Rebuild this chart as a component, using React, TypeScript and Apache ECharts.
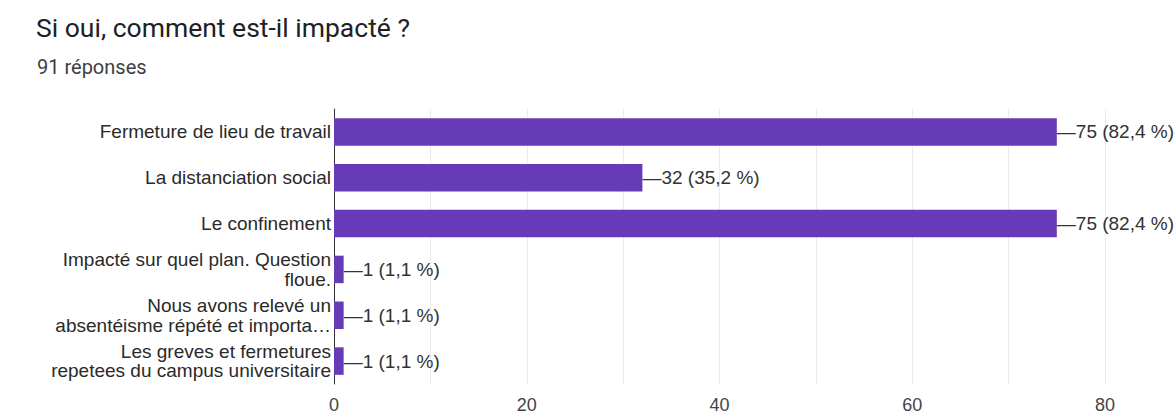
import React, { useEffect, useRef } from "react";
import * as echarts from "echarts";

const categories = [
  "Fermeture de lieu de travail",
  "La distanciation social",
  "Le confinement",
  "Impacté sur quel plan. Question\nfloue.",
  "Nous avons relevé un\nabsentéisme répété et importa…",
  "Les greves et fermetures\nrepetees du campus universitaire",
];
const values = [75, 32, 75, 1, 1, 1];
const percents = ["82,4", "35,2", "82,4", "1,1", "1,1", "1,1"];
const title = "Si oui, comment est-il impacté ?";
const subtitle = "91 réponses";

export default function App() {
  const ref = useRef<HTMLDivElement>(null);
  useEffect(() => {
    document.body.style.margin = "0";
    const chart = echarts.init(ref.current!, null, { renderer: "svg" });
    chart.setOption({
      animation: false,
      backgroundColor: "#ffffff",
      title: [
        {
          text: title,
          left: 31,
          top: 9,
          textStyle: { fontFamily: "Roboto, Arial, sans-serif", fontSize: 26.5, fontWeight: "normal", color: "#202124" },
        },
        {
          text: subtitle,
          left: 32,
          top: 52,
          textStyle: { fontFamily: "Roboto, Arial, sans-serif", fontSize: 20, fontWeight: "normal", color: "#3c4043" },
        },
      ],
      grid: { left: 334, right: 71, top: 109, bottom: 26, containLabel: false },
      xAxis: {
        type: "value",
        min: 0,
        max: 80,
        interval: 10,
        axisLine: { show: false },
        axisTick: { show: false },
        splitLine: { show: true, lineStyle: { color: "#ebebeb", width: 1 } },
        axisLabel: {
          formatter: (v: number) => (v % 20 === 0 ? String(v) : ""),
          color: "#444",
          fontFamily: "'Liberation Sans', Arial, sans-serif",
          fontSize: 18,
          margin: 12,
        },
      },
      yAxis: {
        type: "category",
        data: categories,
        inverse: true,
        axisLine: { show: true, lineStyle: { color: "#333", width: 1 } },
        axisTick: { show: false },
        axisLabel: {
          color: "#2a2a2a",
          fontFamily: "'Liberation Sans', Arial, sans-serif",
          fontSize: 19,
          lineHeight: 19.5,
          margin: 3,
          align: "right",
        },
      },
      series: [
        {
          type: "bar",
          data: values,
          barCategoryGap: "40%",
          itemStyle: { color: "#673ab7" },
          label: {
            show: true,
            position: "right",
            distance: 0,
            formatter: (p: any) => `—${values[p.dataIndex]} (${percents[p.dataIndex]} %)`,
            color: "#333",
            fontFamily: "'Liberation Sans', Arial, sans-serif",
            fontSize: 19,
          },
        },
      ],
    });
    return () => chart.dispose();
  }, []);
  return <div ref={ref} style={{ width: 1176, height: 414 }} />;
}
